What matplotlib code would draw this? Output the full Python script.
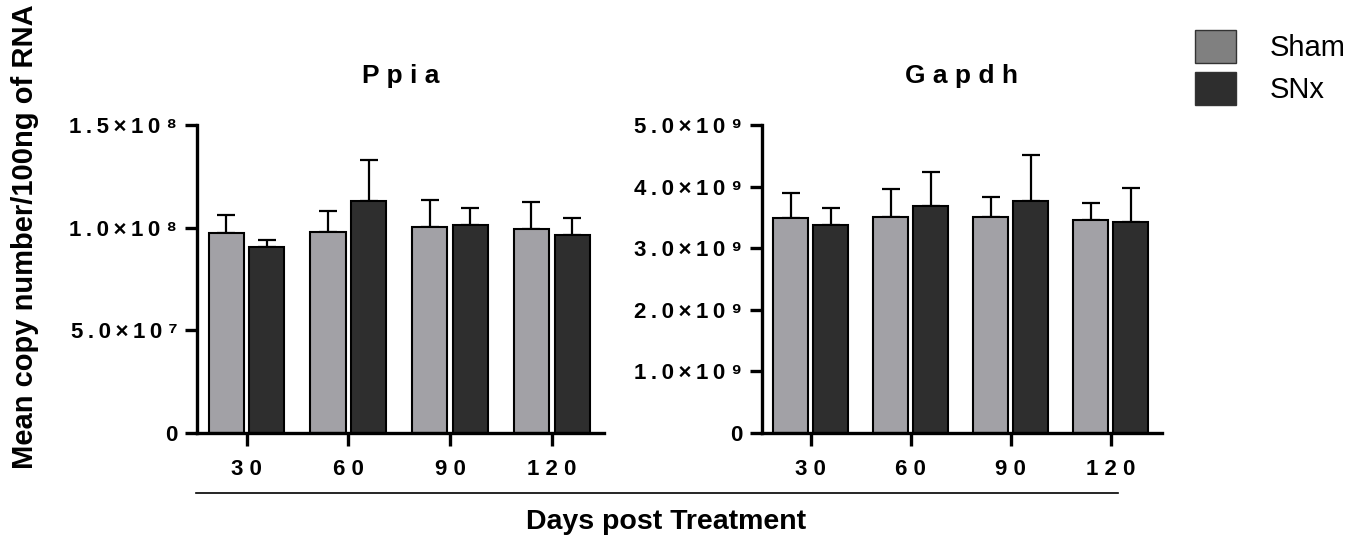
import matplotlib
matplotlib.use('Agg')
import matplotlib.pyplot as plt
from matplotlib.lines import Line2D
from matplotlib.patches import Patch
import numpy as np

plt.rcParams['font.family'] = ['Liberation Sans', 'DejaVu Sans']

TS = '\u2009'  # thin space for the wide letter spacing of the original
SUP = str.maketrans('0123456789', '⁰¹²³⁴⁵⁶⁷⁸⁹')

# days post treatment
days = ['3 0', '6 0', '9 0', '1 2 0']
groups = ['Sham', 'SNx']

# Ppia copy numbers (means and upper SEM)
ppia_sham = [0.974e8, 0.979e8, 1.002e8, 0.995e8]
ppia_sham_err = [0.088e8, 0.102e8, 0.134e8, 0.130e8]
ppia_snx = [0.904e8, 1.131e8, 1.012e8, 0.963e8]
ppia_snx_err = [0.036e8, 0.197e8, 0.082e8, 0.083e8]

# Gapdh copy numbers
gapdh_sham = [3.49e9, 3.50e9, 3.51e9, 3.46e9]
gapdh_sham_err = [0.41e9, 0.46e9, 0.32e9, 0.28e9]
gapdh_snx = [3.37e9, 3.68e9, 3.77e9, 3.43e9]
gapdh_snx_err = [0.29e9, 0.56e9, 0.75e9, 0.55e9]

ppia_ticks = [0, 5e7, 1e8, 1.5e8]
ppia_mant = ['5.0', '1.0', '1.5']
ppia_exp = ['7', '8', '8']
gapdh_ticks = [0, 1e9, 2e9, 3e9, 4e9, 5e9]
gapdh_mant = ['1.0', '2.0', '3.0', '4.0', '5.0']
gapdh_exp = ['9', '9', '9', '9', '9']


def sci_labels(mant, exp):
    out = ['0']
    for m, e in zip(mant, exp):
        out.append(TS.join(m + '×10') + ' ' + e.translate(SUP))
    return out


SHAM_COLOR = '#a2a1a6'
SNX_COLOR = '#2e2e2e'
LEGEND_SHAM = '#808080'

W, H = 1369, 545
fig = plt.figure(figsize=(W / 100, H / 100), dpi=100)
ax1 = fig.add_axes([196.7 / W, (H - 433) / H, 407 / W, 308 / H])
ax2 = fig.add_axes([761.7 / W, (H - 433) / H, 400 / W, 308 / H])


def draw_panel(ax, title, sham, sham_err, snx, snx_err, ticks, ticklabels, ymax):
    x = np.arange(len(days))
    w = 0.345
    off = 0.2
    for xs, vals, errs, col in [(x - off, sham, sham_err, SHAM_COLOR),
                                (x + off, snx, snx_err, SNX_COLOR)]:
        ax.errorbar(xs, vals, yerr=[np.zeros(len(errs)), errs], fmt='none',
                    ecolor='black', elinewidth=1.6, capsize=6.5, capthick=1.6,
                    zorder=1)
        ax.bar(xs, vals, width=w, color=col, edgecolor='black', linewidth=1.5,
               zorder=2)
    ax.set_xlim(-0.49, 3.51)
    ax.set_ylim(0, ymax)
    ax.set_xticks(x)
    ax.set_xticklabels(days, fontsize=16, fontweight='bold')
    ax.set_yticks(ticks)
    ax.set_yticklabels(ticklabels, fontsize=16, fontweight='bold')
    ax.spines[['top', 'right']].set_visible(False)
    for s in ['left', 'bottom']:
        ax.spines[s].set_linewidth(2.4)
    ax.tick_params(axis='x', length=9.5, width=2.4, pad=9)
    ax.tick_params(axis='y', length=9, width=2.4, pad=5)
    ax.set_title(title, fontsize=19, fontweight='bold', pad=30)


draw_panel(ax1, 'P p i a', ppia_sham, ppia_sham_err, ppia_snx, ppia_snx_err,
           ppia_ticks, sci_labels(ppia_mant, ppia_exp), 1.5e8)
draw_panel(ax2, 'G a p d h', gapdh_sham, gapdh_sham_err, gapdh_snx, gapdh_snx_err,
           gapdh_ticks, sci_labels(gapdh_mant, gapdh_exp), 5e9)

fig.text(25 / W, 1 - 237 / H, 'Mean copy number/100ng of RNA', rotation=90,
         ha='center', va='center', fontsize=21, fontweight='bold')
fig.text(666 / W, 1 - 522 / H, 'Days post Treatment', ha='center', va='center',
         fontsize=20.5, fontweight='bold')
fig.add_artist(Line2D([196 / W, 1118 / W], [1 - 493.3 / H, 1 - 493.3 / H],
                      color='black', linewidth=1.2))

handles = [Patch(facecolor=LEGEND_SHAM, edgecolor='#333333', linewidth=1),
           Patch(facecolor=SNX_COLOR, edgecolor='#333333', linewidth=1)]
fig.legend(handles, groups, loc='upper left', bbox_to_anchor=(1195 / W, 1 - 30 / H),
           frameon=False, fontsize=21, handlelength=1.4, handleheight=1.37,
           handletextpad=1.15, labelspacing=0.3, borderpad=0, borderaxespad=0)

fig.savefig('out.png', dpi=100)
